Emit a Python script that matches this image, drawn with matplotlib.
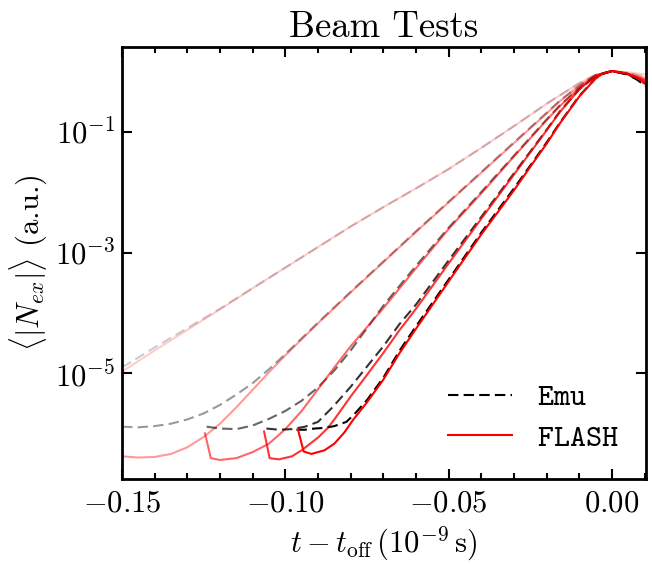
import numpy as np
import matplotlib
matplotlib.use('Agg')
import matplotlib.pyplot as plt
from matplotlib.ticker import MultipleLocator, NullLocator

plt.rcParams['font.family'] = 'cmr10'
plt.rcParams['mathtext.fontset'] = 'cm'
plt.rcParams['axes.formatter.use_mathtext'] = True
plt.rcParams['font.size'] = 22

# values, log10 of <|N_ex|>
# curve A (lightest)
t_a = [-0.150, -0.140, -0.130, -0.120, -0.110, -0.100, -0.090, -0.080, -0.070,
       -0.060, -0.050, -0.040, -0.030, -0.020, -0.010, -0.005, 0.0, 0.005, 0.0105]
flash_a = [-4.97, -4.62, -4.28, -3.94, -3.59, -3.25, -2.91, -2.57, -2.25,
           -1.94, -1.62, -1.27, -0.91, -0.54, -0.20, -0.06, 0.0, -0.02, -0.06]
emu_a = [-4.90, -4.57, -4.25, -3.93, -3.59, -3.25, -2.91, -2.57, -2.25,
         -1.94, -1.62, -1.27, -0.91, -0.54, -0.20, -0.06, 0.0, -0.03, -0.10]

# curve B
t_flash_b = [-0.150, -0.145, -0.140, -0.135, -0.130, -0.125, -0.120, -0.115, -0.110,
             -0.105, -0.100, -0.090, -0.080, -0.070, -0.060, -0.050, -0.040, -0.030,
             -0.020, -0.016, -0.010, -0.005, 0.0, 0.005, 0.0105]
flash_b = [-6.37, -6.39, -6.38, -6.33, -6.22, -6.05, -5.83, -5.56, -5.27,
           -4.98, -4.70, -4.17, -3.66, -3.16, -2.66, -2.17, -1.68, -1.19,
           -0.70, -0.50, -0.24, -0.07, 0.0, -0.04, -0.12]
t_emu_b = [-0.150, -0.145, -0.140, -0.135, -0.130, -0.125, -0.120, -0.115, -0.110,
           -0.105, -0.100, -0.090, -0.080, -0.070, -0.060, -0.050, -0.040, -0.030,
           -0.020, -0.016, -0.010, -0.005, 0.0, 0.005, 0.0105]
emu_b = [-5.88, -5.89, -5.87, -5.83, -5.76, -5.66, -5.52, -5.35, -5.16,
         -4.93, -4.68, -4.16, -3.65, -3.15, -2.65, -2.16, -1.67, -1.18,
         -0.69, -0.49, -0.24, -0.07, 0.0, -0.05, -0.16]

# curve C
t_flash_c = [-0.1246, -0.1228, -0.120, -0.115, -0.110, -0.105, -0.100, -0.095, -0.090,
             -0.085, -0.080, -0.070, -0.060, -0.050, -0.040, -0.030, -0.020, -0.016,
             -0.010, -0.005, 0.0, 0.005, 0.0105]
flash_c = [-5.99, -6.40, -6.43, -6.40, -6.30, -6.16, -5.92, -5.62, -5.26,
           -4.90, -4.55, -3.92, -3.26, -2.61, -2.02, -1.41, -0.81, -0.58,
           -0.28, -0.08, 0.0, -0.05, -0.15]
t_emu_c = [-0.1241, -0.120, -0.115, -0.110, -0.105, -0.100, -0.095, -0.090, -0.085,
           -0.080, -0.070, -0.060, -0.050, -0.040, -0.030, -0.020, -0.016,
           -0.010, -0.005, 0.0, 0.005, 0.0105]
emu_c = [-5.88, -5.91, -5.92, -5.86, -5.75, -5.62, -5.45, -5.23, -4.95,
         -4.62, -3.88, -3.22, -2.59, -2.00, -1.40, -0.80, -0.57,
         -0.28, -0.08, 0.0, -0.06, -0.20]

# curve D
t_flash_d = [-0.1065, -0.1048, -0.102, -0.098, -0.095, -0.090, -0.087, -0.085, -0.080,
             -0.0762, -0.070, -0.065, -0.060, -0.050, -0.040, -0.030, -0.020, -0.016,
             -0.010, -0.005, 0.0, 0.005, 0.0105]
flash_d = [-5.96, -6.40, -6.42, -6.37, -6.27, -6.06, -5.90, -5.76, -5.38,
           -5.11, -4.66, -4.28, -3.93, -3.18, -2.44, -1.71, -0.98, -0.68,
           -0.30, -0.08, 0.0, -0.05, -0.17]
t_emu_d = [-0.1058, -0.102, -0.098, -0.094, -0.090, -0.0854, -0.080, -0.070, -0.065,
           -0.060, -0.050, -0.040, -0.030, -0.020, -0.016, -0.010, -0.005, 0.0,
           0.005, 0.0105]
emu_d = [-5.91, -5.93, -5.92, -5.88, -5.80, -5.55, -5.22, -4.55, -4.18,
         -3.86, -3.13, -2.41, -1.69, -0.97, -0.67, -0.30, -0.08, 0.0,
         -0.06, -0.22]

# curve E (darkest)
t_flash_e = [-0.0961, -0.0944, -0.092, -0.088, -0.085, -0.082, -0.0793, -0.0752, -0.0701,
             -0.065, -0.060, -0.0476, -0.040, -0.030, -0.0242, -0.020, -0.0159, -0.010,
             -0.005, -0.0027, 0.0, 0.0046, 0.0076, 0.0105]
flash_e = [-5.93, -6.29, -6.33, -6.27, -6.16, -5.98, -5.77, -5.49, -5.11,
           -4.66, -4.26, -3.29, -2.70, -1.97, -1.52, -1.20, -0.86, -0.42,
           -0.12, -0.04, 0.0, -0.04, -0.11, -0.21]
t_emu_e = [-0.0966, -0.094, -0.091, -0.088, -0.085, -0.0813, -0.079, -0.077, -0.075,
           -0.070, -0.065, -0.060, -0.0476, -0.040, -0.030, -0.0242, -0.020, -0.0159,
           -0.010, -0.005, -0.0027, 0.0, 0.0046, 0.0076, 0.0105]
emu_e = [-5.93, -5.93, -5.91, -5.90, -5.87, -5.80, -5.68, -5.56, -5.44,
         -5.07, -4.62, -4.22, -3.26, -2.67, -1.94, -1.50, -1.18, -0.85,
         -0.41, -0.12, -0.04, 0.0, -0.05, -0.14, -0.26]

emu_runs = [(t_a, emu_a), (t_emu_b, emu_b), (t_emu_c, emu_c), (t_emu_d, emu_d), (t_emu_e, emu_e)]
flash_runs = [(t_a, flash_a), (t_flash_b, flash_b), (t_flash_c, flash_c),
              (t_flash_d, flash_d), (t_flash_e, flash_e)]
alphas = [0.2, 0.4, 0.6, 0.8, 1.0]

fig = plt.figure(figsize=(6.52, 5.64), dpi=100)
ax = fig.add_axes([0.1871, 0.1507, 0.8037, 0.766])

for (te, ye), (tf, yf), a in zip(emu_runs, flash_runs, alphas):
    ax.semilogy(te, 10 ** np.array(ye), color='black', ls=(0, (5, 2.5)), lw=1.5, alpha=a)
    ax.semilogy(tf, 10 ** np.array(yf), color='red', ls='-', lw=1.5, alpha=a)

# legend handles
ax.plot([], [], color='black', ls=(0, (5, 2.5)), lw=1.5, label=r'$\mathtt{Emu}$')
ax.plot([], [], color='red', ls='-', lw=1.5, label=r'$\mathtt{FLASH}$')
ax.legend(loc='lower right', frameon=False, fontsize=22, handlelength=2.1,
          handletextpad=0.8, borderaxespad=0.5, labelspacing=0.42)

ax.set_xlim(-0.15, 0.0104)
ax.set_ylim(1.8e-7, 2.5)
ax.set_yticks([1e-5, 1e-3, 1e-1])
ax.yaxis.set_minor_locator(NullLocator())
ax.xaxis.set_major_locator(MultipleLocator(0.05))
ax.xaxis.set_minor_locator(MultipleLocator(0.01))

ax.tick_params(which='both', direction='in', top=True, right=True)
ax.tick_params(which='major', length=7, width=1.5)
ax.tick_params(which='minor', length=4, width=1.5)
ax.tick_params(axis='x', pad=8)
ax.tick_params(axis='y', pad=5)
for s in ax.spines.values():
    s.set_linewidth(2)

ax.set_title('Beam Tests', pad=7)
ax.set_xlabel(r'$t - t_{\rm off}\,(10^{-9}\,{\rm s})$', labelpad=5)
ax.set_ylabel(r'$\langle |N_{ex}| \rangle$ (a.u.)')

fig.savefig('out.png', dpi=100)
